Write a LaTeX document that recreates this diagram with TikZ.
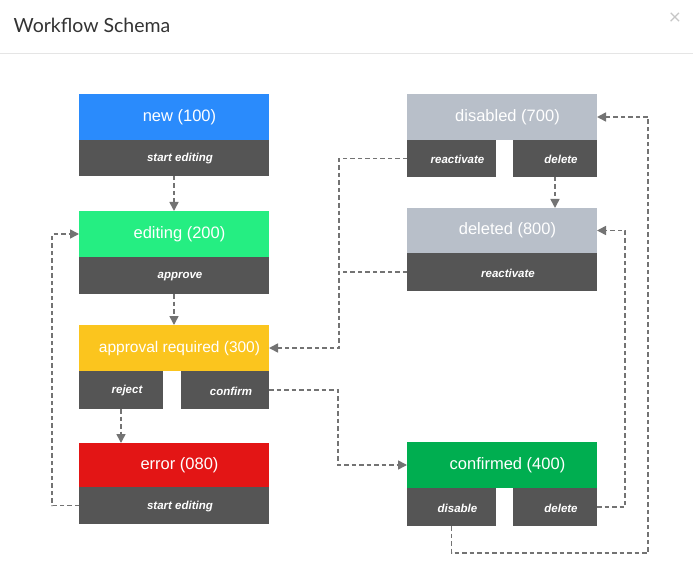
\documentclass[tikz,border=0pt]{standalone}
\usepackage{fontspec}
\setmainfont{Liberation Sans}
\newfontfamily\titlefont{Lato}
\usetikzlibrary{arrows.meta,positioning,calc}
\definecolor{cnew}{HTML}{2A8BFC}
\definecolor{cedit}{HTML}{25EE82}
\definecolor{cappr}{HTML}{FBC51E}
\definecolor{cerr}{HTML}{E31515}
\definecolor{cgray}{HTML}{B8BFC9}
\definecolor{cconf}{HTML}{00AE50}
\definecolor{csub}{HTML}{555555}
\definecolor{cline}{HTML}{737373}
\definecolor{csep}{HTML}{E5E5E5}
\tikzset{
  boxbase/.style={rectangle, inner sep=0pt, outer sep=0pt, anchor=north west, draw=none},
  hdr/.style={boxbase, minimum width=190pt, minimum height=46pt},
  subbox/.style={boxbase, fill=csub, minimum height=37pt},
  htxt/.style={text=white, font=\fontsize{16.5}{18}\selectfont, inner sep=0pt},
  stxt/.style={text=white, font=\fontsize{11.5}{13}\selectfont\bfseries\itshape, inner sep=0pt},
  conn/.style={draw=cline, line width=1.6pt, dash pattern=on 4.5pt off 3pt, -{Triangle[length=9pt,width=9pt]}},
  connplain/.style={draw=cline, line width=1.6pt, dash pattern=on 4.5pt off 3pt}
}
\begin{document}
\begin{tikzpicture}[x=1pt,y=-1pt]
\fill[white] (0,0) rectangle (693,564);
\useasboundingbox (0,0) rectangle (693,564);
% header
\node[anchor=base west, inner sep=0pt, font=\titlefont\fontsize{19.5}{22}\selectfont, text=black!80] (title) at (13.5,32.3) {Workflow Schema};
\node[inner sep=0pt, font=\titlefont\fontsize{21}{22}\selectfont, text=black!22] (close) at (675,19) {×};
\draw[csep, line width=1pt] (0,53.5) -- (693,53.5);

% left column
\node[hdr, fill=cnew] (new) at (79,94) {};
\node[subbox, minimum width=190pt, minimum height=36pt] (newS) at (79,140) {};
\node[hdr, fill=cedit] (edit) at (79,211) {};
\node[subbox, minimum width=190pt] (editS) at (79,257) {};
\node[hdr, fill=cappr] (appr) at (79,325) {};
\node[subbox, minimum width=84pt, minimum height=38pt] (rej) at (79,371) {};
\node[subbox, minimum width=88pt, minimum height=38pt] (conf) at (181,371) {};
\node[hdr, fill=cerr, minimum height=44pt] (err) at (79,443) {};
\node[subbox, minimum width=190pt] (errS) at (79,487) {};

% right column
\node[hdr, fill=cgray] (dis) at (407,94) {};
\node[subbox, minimum width=89pt] (disR) at (407,140) {};
\node[subbox, minimum width=84pt] (disD) at (513,140) {};
\node[hdr, fill=cgray, minimum height=45pt] (del) at (407,208) {};
\node[subbox, minimum width=190pt, minimum height=38pt] (delR) at (407,253) {};
\node[hdr, fill=cconf] (cnf) at (407,442) {};
\node[subbox, minimum width=89pt, minimum height=38pt] (cDis) at (407,488) {};
\node[subbox, minimum width=84pt, minimum height=38pt] (cDel) at (513,488) {};

% texts
\node[htxt] (newT) at ([xshift=5.5pt]new.center) {new (100)};
\node[stxt] (newST) at ([xshift=6pt,yshift=-1pt]newS.center) {start editing};
\node[htxt] (editT) at ([xshift=5.5pt]edit.center) {editing (200)};
\node[stxt] (editST) at ([xshift=6pt,yshift=-1pt]editS.center) {approve};
\node[htxt, font=\fontsize{15.5}{17}\selectfont] (apprT) at ([xshift=5.5pt]appr.center) {approval required (300)};
\node[stxt] (rejT) at ([xshift=6pt,yshift=-1pt]rej.center) {reject};
\node[stxt] (confT) at ([xshift=6pt,yshift=-1pt]conf.center) {confirm};
\node[htxt] (errT) at ([xshift=5.5pt]err.center) {error (080)};
\node[stxt] (errST) at ([xshift=6pt,yshift=-1pt]errS.center) {start editing};
\node[htxt] (disT) at ([xshift=5.5pt]dis.center) {disabled (700)};
\node[stxt] (disRT) at ([xshift=6pt,yshift=-1pt]disR.center) {reactivate};
\node[stxt] (disDT) at ([xshift=6pt,yshift=-1pt]disD.center) {delete};
\node[htxt] (delT) at ([xshift=5.5pt]del.center) {deleted (800)};
\node[stxt] (delRT) at ([xshift=6pt,yshift=-1pt]delR.center) {reactivate};
\node[htxt] (cnfT) at ([xshift=5.5pt]cnf.center) {confirmed (400)};
\node[stxt] (cDisT) at ([xshift=6pt,yshift=-1pt]cDis.center) {disable};
\node[stxt] (cDelT) at ([xshift=6pt,yshift=-1pt]cDel.center) {delete};

% connectors
\coordinate (jr) at (339,348);
\coordinate (jc) at (338,390);
\coordinate (jd) at (625,507);
\coordinate (jb) at (648,553);

\draw[conn] (newS.south) -- (edit.north);
\draw[conn] (editS.south) -- (appr.north);
\draw[conn] (rej.south) -- (rej.south |- err.north);
\draw[conn] (errS.west) -- ++(-27,0) |- (edit.west);
\draw[conn] (disR.west) -| (jr) -- (appr.east);
\draw[connplain] (delR.west) -- (delR.west -| jr);
\draw[conn] (disD.south) -- (disD.south |- del.north);
\draw[conn] (conf.east) -- (jc) |- (cnf.west);
\draw[conn] (cDel.east) -- (jd) |- (del.east);
\draw[conn] (cDis.south) |- (jb) |- (dis.east);
\end{tikzpicture}
\end{document}
